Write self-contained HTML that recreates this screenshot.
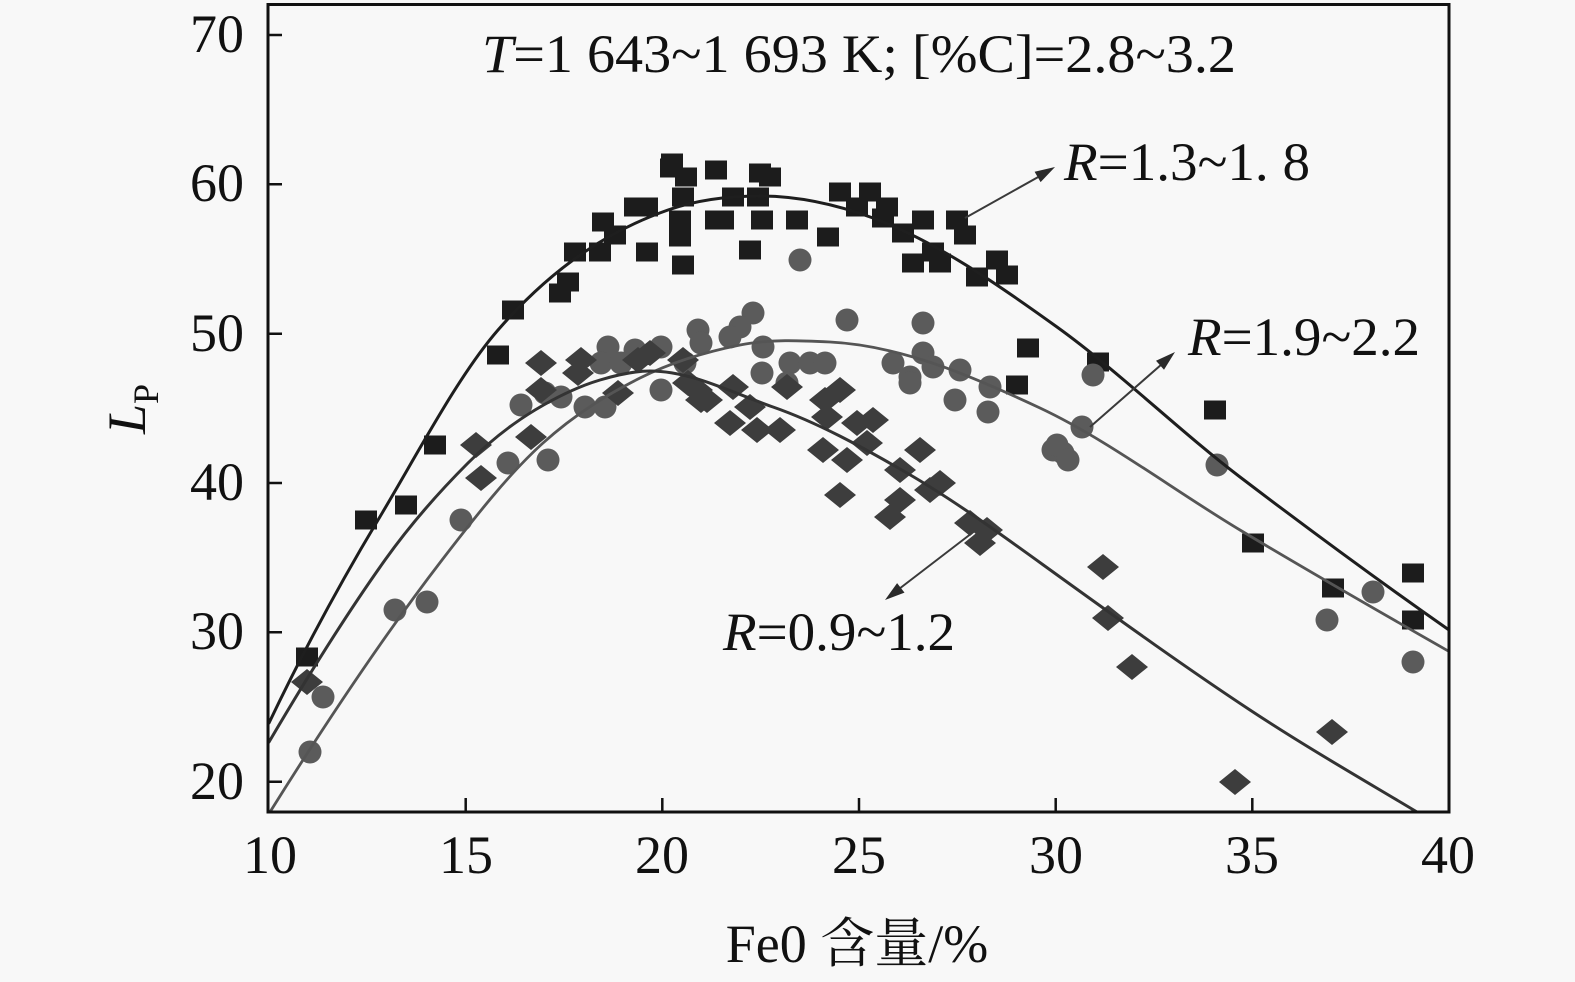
<!DOCTYPE html>
<html><head><meta charset="utf-8"><style>
html,body{margin:0;padding:0;background:#f8f8f8;}
svg{display:block;}
text{font-family:"Liberation Serif","Noto Serif CJK SC",serif;fill:#111;}
</style></head><body>
<svg width="1575" height="982" viewBox="0 0 1575 982" xmlns="http://www.w3.org/2000/svg">
<rect width="1575" height="982" fill="#f8f8f8"/>
<defs><clipPath id="pc"><rect x="268" y="4" width="1181" height="808"/></clipPath></defs>
<g clip-path="url(#pc)">
<path fill="#1c1c1c" d="M296,647.5h22v19h-22zM355,510.5h22v19h-22zM395,495.5h22v19h-22zM424,435.5h22v19h-22zM487,345.5h22v19h-22zM502,300.5h22v19h-22zM549,283.5h22v19h-22zM557,272.5h22v19h-22zM564,242.5h22v19h-22zM589,242.5h22v19h-22zM592,212.5h22v19h-22zM604,225.5h22v19h-22zM624,197.5h22v19h-22zM636,242.5h22v19h-22zM636,197.5h22v19h-22zM660,158.5h22v19h-22zM661,153.5h22v19h-22zM675,167.5h22v19h-22zM672,187.5h22v19h-22zM669,210.5h22v19h-22zM669,227.5h22v19h-22zM672,255.5h22v19h-22zM705,160.5h22v19h-22zM705,210.5h22v19h-22zM712,210.5h22v19h-22zM722,187.5h22v19h-22zM747,187.5h22v19h-22zM749,163.5h22v19h-22zM759,167.5h22v19h-22zM751,210.5h22v19h-22zM739,240.5h22v19h-22zM786,210.5h22v19h-22zM817,227.5h22v19h-22zM829,182.5h22v19h-22zM859,182.5h22v19h-22zM846,197.5h22v19h-22zM876,197.5h22v19h-22zM872,208.5h22v19h-22zM892,223.5h22v19h-22zM912,210.5h22v19h-22zM902,253.5h22v19h-22zM929,253.5h22v19h-22zM922,242.5h22v19h-22zM946,210.5h22v19h-22zM954,225.5h22v19h-22zM966,267.5h22v19h-22zM986,250.5h22v19h-22zM996,265.5h22v19h-22zM1017,338.5h22v19h-22zM1006,375.5h22v19h-22zM1087,352.5h22v19h-22zM1204,400.5h22v19h-22zM1242,533.5h22v19h-22zM1322,578.5h22v19h-22zM1402,563.5h22v19h-22zM1402,610.5h22v19h-22z"/>
<g fill="#5b5b5b">
<circle cx="310" cy="752" r="11.5"/><circle cx="323" cy="697" r="11.5"/><circle cx="395" cy="610" r="11.5"/><circle cx="427" cy="602" r="11.5"/><circle cx="461" cy="520" r="11.5"/><circle cx="508" cy="463" r="11.5"/><circle cx="548" cy="460" r="11.5"/><circle cx="521" cy="405" r="11.5"/><circle cx="545" cy="393" r="11.5"/><circle cx="561" cy="397" r="11.5"/><circle cx="585" cy="407" r="11.5"/><circle cx="605" cy="407" r="11.5"/><circle cx="608" cy="347" r="11.5"/><circle cx="635" cy="350" r="11.5"/><circle cx="661" cy="347" r="11.5"/><circle cx="661" cy="390" r="11.5"/><circle cx="698" cy="330" r="11.5"/><circle cx="701" cy="343" r="11.5"/><circle cx="685" cy="363" r="11.5"/><circle cx="601" cy="363" r="11.5"/><circle cx="621" cy="363" r="11.5"/><circle cx="753" cy="313" r="11.5"/><circle cx="740" cy="327" r="11.5"/><circle cx="730" cy="337" r="11.5"/><circle cx="763" cy="347" r="11.5"/><circle cx="762" cy="373" r="11.5"/>
<circle cx="790" cy="363" r="11.5"/><circle cx="810" cy="363" r="11.5"/><circle cx="825" cy="363" r="11.5"/><circle cx="787" cy="383" r="11.5"/><circle cx="800" cy="260" r="11.5"/><circle cx="847" cy="320" r="11.5"/><circle cx="923" cy="323" r="11.5"/><circle cx="893" cy="363" r="11.5"/><circle cx="910" cy="377" r="11.5"/><circle cx="923" cy="353" r="11.5"/><circle cx="933" cy="367" r="11.5"/><circle cx="910" cy="383" r="11.5"/><circle cx="960" cy="370" r="11.5"/><circle cx="955" cy="400" r="11.5"/><circle cx="990" cy="387" r="11.5"/><circle cx="988" cy="412" r="11.5"/><circle cx="1053" cy="450" r="11.5"/><circle cx="1093" cy="375" r="11.5"/><circle cx="1082" cy="427" r="11.5"/><circle cx="1063" cy="453" r="11.5"/><circle cx="1057" cy="445" r="11.5"/><circle cx="1068" cy="460" r="11.5"/><circle cx="1217" cy="465" r="11.5"/><circle cx="1373" cy="592" r="11.5"/><circle cx="1327" cy="620" r="11.5"/><circle cx="1413" cy="662" r="11.5"/>
</g>
<path fill="#3d3d3d" d="M291,682l16,-13 16,13 -16,13zM460,445l16,-13 16,13 -16,13zM465,478l16,-13 16,13 -16,13zM515,437l16,-13 16,13 -16,13zM525,363l16,-13 16,13 -16,13zM565,360l16,-13 16,13 -16,13zM562,373l16,-13 16,13 -16,13zM622,360l16,-13 16,13 -16,13zM602,393l16,-13 16,13 -16,13zM525,390l16,-13 16,13 -16,13zM685,400l16,-13 16,13 -16,13zM672,383l16,-13 16,13 -16,13zM634,353l16,-13 16,13 -16,13zM667,360l16,-13 16,13 -16,13zM681,390l16,-13 16,13 -16,13zM691,400l16,-13 16,13 -16,13zM717,387l16,-13 16,13 -16,13zM734,407l16,-13 16,13 -16,13zM714,423l16,-13 16,13 -16,13zM741,430l16,-13 16,13 -16,13zM764,430l16,-13 16,13 -16,13zM771,387l16,-13 16,13 -16,13zM809,400l16,-13 16,13 -16,13zM824,390l16,-13 16,13 -16,13zM811,417l16,-13 16,13 -16,13zM841,423l16,-13 16,13 -16,13zM857,420l16,-13 16,13 -16,13zM851,443l16,-13 16,13 -16,13zM807,450l16,-13 16,13 -16,13zM831,460l16,-13 16,13 -16,13zM904,450l16,-13 16,13 -16,13zM884,470l16,-13 16,13 -16,13zM924,483l16,-13 16,13 -16,13zM914,490l16,-13 16,13 -16,13zM824,495l16,-13 16,13 -16,13zM884,500l16,-13 16,13 -16,13zM874,517l16,-13 16,13 -16,13zM954,523l16,-13 16,13 -16,13zM971,530l16,-13 16,13 -16,13zM964,543l16,-13 16,13 -16,13zM1087,567l16,-13 16,13 -16,13zM1092,618l16,-13 16,13 -16,13zM1116,667l16,-13 16,13 -16,13zM1219,782l16,-13 16,13 -16,13zM1316,732l16,-13 16,13 -16,13z"/>
<g fill="none" stroke-linecap="round">
<path stroke="#1e1e1e" stroke-width="3" d="M269,723 C305.3,646.8 341.7,580.6 378,520 C418,453.2 458,376 498,330 C554.7,264.8 611.3,229.8 668,210 C698.7,199.3 729.3,196 760,196 C797.7,196 835.3,204.1 873,218 C934.3,240.7 995.7,282.8 1057,327 C1118,370.9 1179,430.6 1240,477 C1309.7,530 1379.3,581.2 1449,630"/>
<path stroke="#555" stroke-width="2.8" d="M270,812 C327.3,720.3 384.7,634.5 442,560 C475.7,516.2 509.3,473.3 543,443 C575.3,413.9 607.7,394.2 640,378 C673.3,361.3 706.7,351.7 740,345 C770,339 800,340.5 830,342 C900,345.5 970,375.1 1040,408 C1106.7,439.3 1173.3,490 1240,530 C1310,572 1380,612.1 1450,652"/>
<path stroke="#333" stroke-width="3" d="M269,742 C307.7,676.2 346.3,614.2 385,560 C412.7,521.2 440.3,490.7 468,463 C490.3,440.7 512.7,423.4 535,410 C556.7,397 578.3,386.5 600,380 C616.7,375 633.3,371 650,371 C691,371 732,392.6 773,407 C817.7,422.6 862.3,447.1 907,473 C958,502.6 1009,540.3 1060,577 C1123.3,622.6 1186.7,668.2 1250,710 C1305.7,746.8 1361.3,778.6 1417,812"/>
</g>
</g>
<rect x="268" y="4.5" width="1181" height="807.5" fill="none" stroke="#111" stroke-width="3"/>
<path stroke="#111" stroke-width="2.5" d="M268,35h14M268,184.3h14M268,333.7h14M268,483h14M268,632.3h14M268,781.7h14M465.7,812v-14M662.3,812v-14M859,812v-14M1055.7,812v-14M1252.3,812v-14"/>
<g font-size="54" text-anchor="end">
<text x="244" y="52">70</text><text x="244" y="201">60</text><text x="244" y="351">50</text><text x="244" y="500">40</text><text x="244" y="649">30</text><text x="244" y="799">20</text>
</g>
<g font-size="54" text-anchor="middle">
<text x="270" y="873">10</text><text x="466" y="873">15</text><text x="662" y="873">20</text><text x="859" y="873">25</text><text x="1056" y="873">30</text><text x="1252" y="873">35</text><text x="1448" y="873">40</text>
</g>
<text x="857" y="962" font-size="54" text-anchor="middle">Fe0 含量/%</text>
<text transform="translate(145,434) rotate(-90)" font-size="54"><tspan font-style="italic">L</tspan><tspan font-size="36" dy="13">P</tspan></text>
<text x="482" y="72" font-size="54" textLength="754" lengthAdjust="spacingAndGlyphs"><tspan font-style="italic">T</tspan>=1 643~1 693 K;  [%C]=2.8~3.2</text>
<text x="1064" y="180" font-size="54" textLength="246" lengthAdjust="spacingAndGlyphs"><tspan font-style="italic">R</tspan>=1.3~1. 8</text>
<text x="1188" y="355" font-size="54" textLength="232" lengthAdjust="spacingAndGlyphs"><tspan font-style="italic">R</tspan>=1.9~2.2</text>
<text x="723" y="650" font-size="54" textLength="232" lengthAdjust="spacingAndGlyphs"><tspan font-style="italic">R</tspan>=0.9~1.2</text>
<path stroke="#3a3a3a" stroke-width="2" d="M965,218L1040,176M1090,427L1162,364M972,533L899,589"/>
<path fill="#2a2a2a" d="M1055,167L1040.6,182.1L1034.6,171.7zM1175,352L1164,369.7L1156,360.7zM885,600L904.5,592.6L897.1,583.1z"/>
</svg>
</body></html>
